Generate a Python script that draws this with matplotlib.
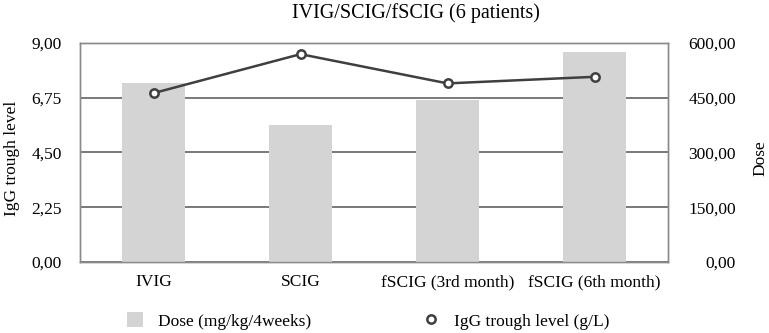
import matplotlib
matplotlib.use('Agg')
import matplotlib.pyplot as plt
from matplotlib.ticker import FuncFormatter
from matplotlib.lines import Line2D
from matplotlib.patches import Patch

plt.rcParams['font.family'] = ['Liberation Serif', 'DejaVu Serif']
plt.rcParams['font.size'] = 12.5

# données
categories = ['IVIG', 'SCIG', 'fSCIG (3rd month)', 'fSCIG (6th month)']
dose = [490, 375, 443, 575]
igg = [6.93, 8.53, 7.33, 7.6]

igg_ticks = [0, 2.25, 4.5, 6.75, 9]
dose_ticks = [0, 150, 300, 450, 600]

comma = FuncFormatter(lambda v, p: f'{v:.2f}'.replace('.', ','))

fig = plt.figure(figsize=(7.69, 3.33), dpi=100)
ax = fig.add_axes([80 / 769, 1 - 262 / 333, 588 / 769, (262 - 42.7) / 333])
ax2 = ax.twinx()

# couche du bas : grille + barres (axe Dose)
ax2.set_zorder(1)
ax.set_zorder(2)
ax.patch.set_visible(False)
ax2.patch.set_visible(False)

x = list(range(len(categories)))
ax2.bar(x, dose, width=0.43, color='#d4d4d4', zorder=3)
ax2.set_ylim(0, 600)
ax2.set_yticks(dose_ticks)
ax2.yaxis.set_major_formatter(comma)
ax2.grid(axis='y', color='#555555', linewidth=1.1, zorder=0)
ax2.set_axisbelow(True)

ax.plot(x, igg, color='#3f3f3f', linewidth=1.8, marker='o', markersize=6,
        markerfacecolor='white', markeredgecolor='#3f3f3f', markeredgewidth=1.8,
        zorder=5)
ax.set_ylim(0, 9)
ax.set_yticks(igg_ticks)
ax.yaxis.set_major_formatter(comma)
ax.set_xlim(-0.5, len(categories) - 0.5)
ax.set_xticks(x)
ax.set_xticklabels(categories)

for a in (ax, ax2):
    for s in a.spines.values():
        s.set_color('#8a8a8a')
        s.set_linewidth(1.0)
    a.tick_params(length=0)

# pad en points (1 px = 0.72 pt)
ax.tick_params(axis='y', pad=13)
ax.tick_params(axis='x', pad=9)
ax2.tick_params(axis='y', pad=49)
for t in ax2.get_yticklabels():
    t.set_horizontalalignment('right')

fig.text(416 / 769, 1 - 13 / 333, 'IVIG/SCIG/fSCIG (6 patients)', ha='center', va='center', fontsize=14.5)
fig.text(12 / 769, 1 - 158 / 333, 'IgG trough level', rotation=90, ha='center', va='center')
fig.text(760 / 769, 1 - 158 / 333, 'Dose', rotation=90, ha='center', va='center')

handles = [Patch(facecolor='#d4d4d4', edgecolor='none'),
           Line2D([], [], color='#3f3f3f', marker='o', markersize=6, markerfacecolor='white',
                  markeredgewidth=1.8, linestyle='none')]
fig.legend(handles, ['Dose (mg/kg/4weeks)', 'IgG trough level (g/L)'], ncol=2, frameon=False,
           loc='center left', bbox_to_anchor=(127 / 769, 1 - 321 / 333),
           handlelength=0.9, handleheight=0.9, handletextpad=0.86, columnspacing=6.5,
           borderaxespad=0, borderpad=0)

fig.savefig('out.png', dpi=100)
